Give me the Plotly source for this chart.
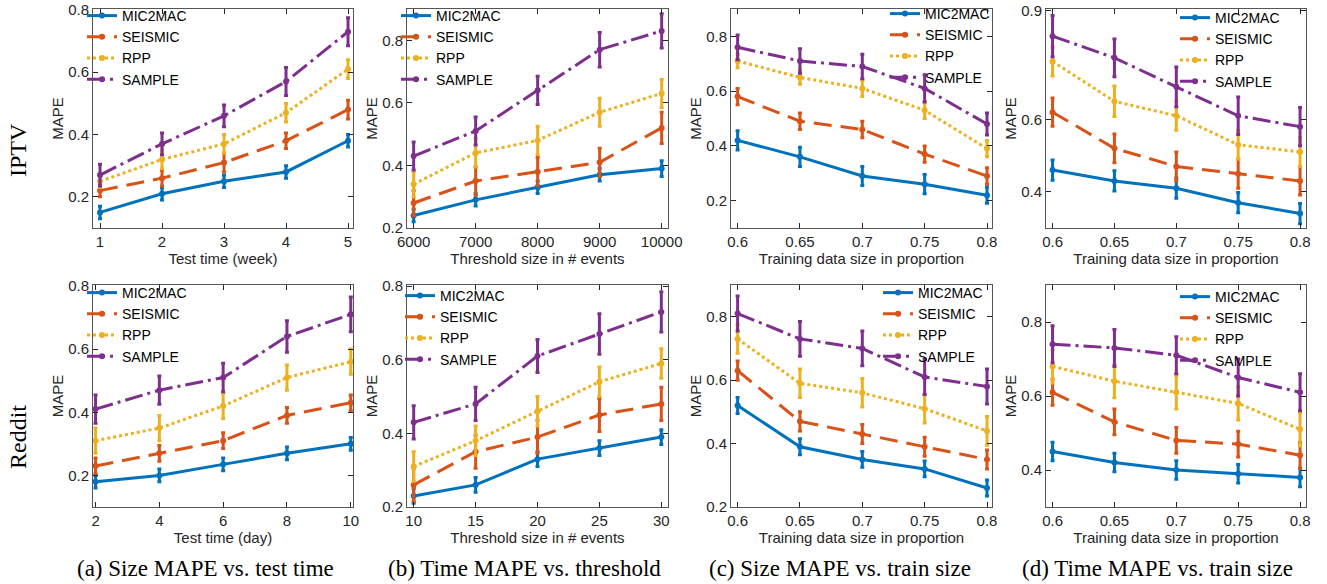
import plotly.graph_objects as go

W, H = 1327, 584

# ---------------- data ----------------
series_names = ["MIC2MAC", "SEISMIC", "RPP", "SAMPLE"]

# (a) IPTV: Size MAPE vs. test time (week)
x_a_iptv = [1, 2, 3, 4, 5]
a_iptv_mic2mac = [0.15, 0.21, 0.25, 0.28, 0.38]
a_iptv_seismic = [0.22, 0.26, 0.31, 0.38, 0.48]
a_iptv_rpp = [0.25, 0.32, 0.37, 0.47, 0.61]
a_iptv_sample = [0.27, 0.37, 0.46, 0.57, 0.73]
a_iptv_err_mic2mac = [0.02, 0.02, 0.02, 0.02, 0.02]
a_iptv_err_seismic = [0.02, 0.025, 0.03, 0.025, 0.03]
a_iptv_err_rpp = [0.02, 0.03, 0.03, 0.03, 0.03]
a_iptv_err_sample = [0.035, 0.035, 0.035, 0.045, 0.045]

# (b) IPTV: Time MAPE vs. threshold
x_b_iptv = [6000, 7000, 8000, 9000, 10000]
b_iptv_mic2mac = [0.24, 0.29, 0.33, 0.37, 0.39]
b_iptv_seismic = [0.28, 0.35, 0.38, 0.41, 0.52]
b_iptv_rpp = [0.34, 0.44, 0.48, 0.57, 0.63]
b_iptv_sample = [0.43, 0.51, 0.64, 0.77, 0.83]
b_iptv_err_mic2mac = [0.02, 0.02, 0.02, 0.02, 0.025]
b_iptv_err_seismic = [0.04, 0.045, 0.045, 0.045, 0.05]
b_iptv_err_rpp = [0.04, 0.045, 0.045, 0.045, 0.045]
b_iptv_err_sample = [0.045, 0.045, 0.045, 0.055, 0.055]

# (c) IPTV: Size MAPE vs. train size
x_c_iptv = [0.6, 0.65, 0.7, 0.75, 0.8]
c_iptv_mic2mac = [0.42, 0.36, 0.29, 0.26, 0.22]
c_iptv_seismic = [0.58, 0.49, 0.46, 0.37, 0.29]
c_iptv_rpp = [0.71, 0.65, 0.61, 0.53, 0.39]
c_iptv_sample = [0.76, 0.71, 0.69, 0.61, 0.48]
c_iptv_err_mic2mac = [0.035, 0.035, 0.035, 0.035, 0.03]
c_iptv_err_seismic = [0.03, 0.03, 0.03, 0.03, 0.03]
c_iptv_err_rpp = [0.025, 0.025, 0.03, 0.03, 0.03]
c_iptv_err_sample = [0.045, 0.045, 0.045, 0.05, 0.04]

# (d) IPTV: Time MAPE vs. train size
x_d_iptv = [0.6, 0.65, 0.7, 0.75, 0.8]
d_iptv_mic2mac = [0.46, 0.43, 0.41, 0.37, 0.34]
d_iptv_seismic = [0.62, 0.52, 0.47, 0.45, 0.43]
d_iptv_rpp = [0.76, 0.65, 0.61, 0.53, 0.51]
d_iptv_sample = [0.83, 0.77, 0.69, 0.61, 0.58]
d_iptv_err_mic2mac = [0.028, 0.028, 0.028, 0.028, 0.028]
d_iptv_err_seismic = [0.039, 0.04, 0.04, 0.04, 0.039]
d_iptv_err_rpp = [0.04, 0.042, 0.04, 0.04, 0.04]
d_iptv_err_sample = [0.057, 0.052, 0.055, 0.052, 0.053]

# (a) Reddit: Size MAPE vs. test time (day)
x_a_reddit = [2, 4, 6, 8, 10]
a_reddit_mic2mac = [0.18, 0.20, 0.235, 0.27, 0.30]
a_reddit_seismic = [0.23, 0.27, 0.31, 0.39, 0.43]
a_reddit_rpp = [0.31, 0.35, 0.42, 0.51, 0.56]
a_reddit_sample = [0.41, 0.47, 0.51, 0.64, 0.71]
a_reddit_err_mic2mac = [0.02, 0.02, 0.02, 0.02, 0.02]
a_reddit_err_seismic = [0.025, 0.025, 0.025, 0.025, 0.025]
a_reddit_err_rpp = [0.04, 0.04, 0.04, 0.04, 0.04]
a_reddit_err_sample = [0.045, 0.045, 0.045, 0.05, 0.055]

# (b) Reddit: Time MAPE vs. threshold
x_b_reddit = [10, 15, 20, 25, 30]
b_reddit_mic2mac = [0.23, 0.26, 0.33, 0.36, 0.39]
b_reddit_seismic = [0.26, 0.35, 0.39, 0.45, 0.48]
b_reddit_rpp = [0.31, 0.38, 0.46, 0.54, 0.59]
b_reddit_sample = [0.43, 0.48, 0.61, 0.67, 0.73]
b_reddit_err_mic2mac = [0.02, 0.02, 0.02, 0.02, 0.02]
b_reddit_err_seismic = [0.045, 0.045, 0.045, 0.045, 0.045]
b_reddit_err_rpp = [0.04, 0.04, 0.04, 0.04, 0.04]
b_reddit_err_sample = [0.045, 0.045, 0.045, 0.055, 0.055]

# (c) Reddit: Size MAPE vs. train size
x_c_reddit = [0.6, 0.65, 0.7, 0.75, 0.8]
c_reddit_mic2mac = [0.52, 0.39, 0.35, 0.32, 0.26]
c_reddit_seismic = [0.63, 0.47, 0.43, 0.39, 0.35]
c_reddit_rpp = [0.73, 0.59, 0.56, 0.51, 0.44]
c_reddit_sample = [0.81, 0.73, 0.70, 0.61, 0.58]
c_reddit_err_mic2mac = [0.025, 0.025, 0.025, 0.025, 0.025]
c_reddit_err_seismic = [0.03, 0.03, 0.03, 0.03, 0.03]
c_reddit_err_rpp = [0.045, 0.045, 0.045, 0.045, 0.045]
c_reddit_err_sample = [0.055, 0.055, 0.055, 0.055, 0.055]

# (d) Reddit: Time MAPE vs. train size
x_d_reddit = [0.6, 0.65, 0.7, 0.75, 0.8]
d_reddit_mic2mac = [0.45, 0.42, 0.40, 0.39, 0.38]
d_reddit_seismic = [0.61, 0.53, 0.48, 0.47, 0.44]
d_reddit_rpp = [0.68, 0.64, 0.61, 0.58, 0.51]
d_reddit_sample = [0.74, 0.73, 0.71, 0.65, 0.61]
d_reddit_err_mic2mac = [0.025, 0.025, 0.025, 0.025, 0.025]
d_reddit_err_seismic = [0.035, 0.035, 0.035, 0.035, 0.035]
d_reddit_err_rpp = [0.045, 0.045, 0.045, 0.045, 0.045]
d_reddit_err_sample = [0.05, 0.05, 0.05, 0.05, 0.05]

# tick labels
xticks_a_iptv = ["1", "2", "3", "4", "5"]
xticks_b_iptv = ["6000", "7000", "8000", "9000", "10000"]
xticks_train = ["0.6", "0.65", "0.7", "0.75", "0.8"]
xticks_a_reddit = ["2", "4", "6", "8", "10"]
xticks_b_reddit = ["10", "15", "20", "25", "30"]
yticks_std = [0.2, 0.4, 0.6, 0.8]
yticks_d_iptv = [0.4, 0.6, 0.9]
yticks_d_reddit = [0.4, 0.6, 0.8]

xtitles_iptv = ["Test time (week)", "Threshold size in # events",
                "Training data size in proportion", "Training data size in proportion"]
xtitles_reddit = ["Test time (day)", "Threshold size in # events",
                  "Training data size in proportion", "Training data size in proportion"]
row_labels = ["IPTV", "Reddit"]
captions = ["(a) Size MAPE vs. test time", "(b) Time MAPE vs. threshold",
            "(c) Size MAPE vs. train size", "(d) Time MAPE vs. train size"]

# ---------------- style ----------------
colors = ["#0072BD", "#D95319", "#EDB120", "#7E2F8E"]
dashes = ["solid", "18px,9px", "dot", "18px,5px,3px,5px"]
FONT = "Liberation Sans, Arial, Helvetica, sans-serif"
SERIF = "Liberation Serif, Times New Roman, serif"
AXC = "#262626"

col_px = [(93, 353), (407, 668), (731, 992), (1046, 1306)]
row_px = [(9, 228), (285, 507)]

panels = [
    # row 0
    dict(x=x_a_iptv, ys=[a_iptv_mic2mac, a_iptv_seismic, a_iptv_rpp, a_iptv_sample],
         es=[a_iptv_err_mic2mac, a_iptv_err_seismic, a_iptv_err_rpp, a_iptv_err_sample],
         xt=xticks_a_iptv, yt=yticks_std, xr=[0.887, 5.08], yr=[0.1, 0.803], leg=(82, 0)),
    dict(x=x_b_iptv, ys=[b_iptv_mic2mac, b_iptv_seismic, b_iptv_rpp, b_iptv_sample],
         es=[b_iptv_err_mic2mac, b_iptv_err_seismic, b_iptv_err_rpp, b_iptv_err_sample],
         xt=xticks_b_iptv, yt=yticks_std, xr=[5893, 10102], yr=[0.2, 0.9], leg=(396, 0)),
    dict(x=x_c_iptv, ys=[c_iptv_mic2mac, c_iptv_seismic, c_iptv_rpp, c_iptv_sample],
         es=[c_iptv_err_mic2mac, c_iptv_err_seismic, c_iptv_err_rpp, c_iptv_err_sample],
         xt=xticks_train, yt=yticks_std, xr=[0.5947, 0.804], yr=[0.1, 0.9], leg=(885, -2)),
    dict(x=x_d_iptv, ys=[d_iptv_mic2mac, d_iptv_seismic, d_iptv_rpp, d_iptv_sample],
         es=[d_iptv_err_mic2mac, d_iptv_err_seismic, d_iptv_err_rpp, d_iptv_err_sample],
         xt=xticks_train, yt=yticks_d_iptv, xr=[0.5947, 0.8048], yr=[0.3, 0.905], leg=(1175, 2)),
    # row 1
    dict(x=x_a_reddit, ys=[a_reddit_mic2mac, a_reddit_seismic, a_reddit_rpp, a_reddit_sample],
         es=[a_reddit_err_mic2mac, a_reddit_err_seismic, a_reddit_err_rpp, a_reddit_err_sample],
         xt=xticks_a_reddit, yt=yticks_std, xr=[1.92, 10.07], yr=[0.1, 0.803], leg=(82, 277)),
    dict(x=x_b_reddit, ys=[b_reddit_mic2mac, b_reddit_seismic, b_reddit_rpp, b_reddit_sample],
         es=[b_reddit_err_mic2mac, b_reddit_err_seismic, b_reddit_err_rpp, b_reddit_err_sample],
         xt=xticks_b_reddit, yt=yticks_std, xr=[9.46, 30.54], yr=[0.2, 0.803], leg=(400, 280)),
    dict(x=x_c_reddit, ys=[c_reddit_mic2mac, c_reddit_seismic, c_reddit_rpp, c_reddit_sample],
         es=[c_reddit_err_mic2mac, c_reddit_err_seismic, c_reddit_err_rpp, c_reddit_err_sample],
         xt=xticks_train, yt=yticks_std, xr=[0.5947, 0.804], yr=[0.2, 0.9], leg=(878, 277)),
    dict(x=x_d_reddit, ys=[d_reddit_mic2mac, d_reddit_seismic, d_reddit_rpp, d_reddit_sample],
         es=[d_reddit_err_mic2mac, d_reddit_err_seismic, d_reddit_err_rpp, d_reddit_err_sample],
         xt=xticks_train, yt=yticks_d_reddit, xr=[0.5947, 0.8048], yr=[0.3, 0.9], leg=(1175, 281)),
]

fig = go.Figure()
layout = {}
for k, p in enumerate(panels):
    r, c = divmod(k, 4)
    idx = "" if k == 0 else str(k + 1)
    legname = "legend" + idx
    for s in range(4):
        fig.add_trace(go.Scatter(
            x=p["x"], y=p["ys"][s], name=series_names[s],
            mode="lines+markers",
            line=dict(color=colors[s], width=3, dash=dashes[s]),
            marker=dict(color=colors[s], size=6, symbol="circle"),
            error_y=dict(type="data", array=p["es"][s], color=colors[s],
                         thickness=3, width=2),
            xaxis="x" + idx, yaxis="y" + idx, legend=legname,
        ))
    x0, x1 = col_px[c]
    y0, y1 = row_px[r]
    axcommon = dict(showline=True, linecolor="#555555", linewidth=1, mirror="allticks",
                    ticks="inside", ticklen=5, tickcolor=AXC, showgrid=False, zeroline=False,
                    automargin=False, ticklabeloverflow="allow",
                    tickfont=dict(family=FONT, size=15, color=AXC))
    layout["xaxis" + idx] = dict(
        domain=[x0 / W, x1 / W], anchor="y" + idx, range=p["xr"],
        tickvals=p["x"], ticktext=p["xt"],
        title=dict(text=(xtitles_iptv if r == 0 else xtitles_reddit)[c],
                   font=dict(family=FONT, size=15, color=AXC), standoff=2),
        **axcommon)
    layout["yaxis" + idx] = dict(
        domain=[1 - y1 / H, 1 - y0 / H], anchor="x" + idx, range=p["yr"],
        tickvals=p["yt"], ticktext=[f"{v:g}" for v in p["yt"]],
        title=dict(text="MAPE", font=dict(family=FONT, size=15, color=AXC), standoff=0),
        **axcommon)
    lx, ly = p["leg"]
    layout[legname] = dict(x=lx / W, y=1 - ly / H, xanchor="left", yanchor="top",
                           bgcolor="rgba(0,0,0,0)", borderwidth=0,
                           font=dict(family=FONT, size=14, color="#000000"),
                           tracegroupgap=0, itemclick=False)

annotations = []
for i, t in enumerate(row_labels):
    annotations.append(dict(text=t, x=18 / W, y=1 - [150, 437][i] / H, xref="paper", yref="paper",
                            showarrow=False, textangle=-90, xanchor="center", yanchor="middle",
                            font=dict(family=SERIF, size=24, color="#000000")))
cap_x = [205, 524, 840, 1157]
for i, t in enumerate(captions):
    annotations.append(dict(text=t, x=cap_x[i] / W, y=1 - 568 / H, xref="paper", yref="paper",
                            showarrow=False, xanchor="center", yanchor="middle",
                            font=dict(family=SERIF, size=23, color="#000000")))

fig.update_layout(
    width=W, height=H, margin=dict(l=0, r=0, t=0, b=0, autoexpand=False),
    paper_bgcolor="white", plot_bgcolor="white",
    showlegend=True, annotations=annotations, **layout)

fig.write_html("out.html", config={"displayModeBar": False},
               post_script="document.body.style.margin='0';document.body.style.overflow='hidden';")
